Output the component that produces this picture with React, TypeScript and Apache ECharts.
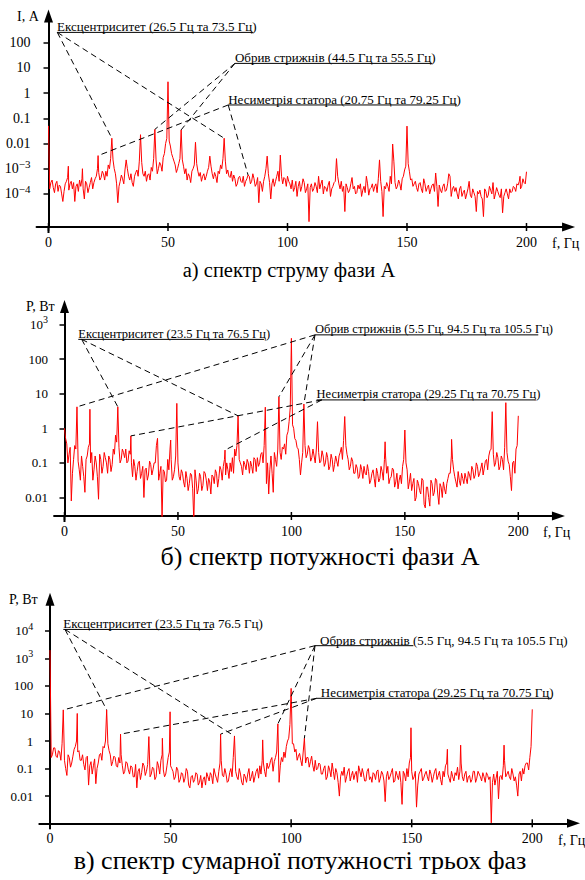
import React, { useEffect, useRef } from 'react';
import * as echarts from 'echarts';

const SERIF = 'Liberation Serif, DejaVu Serif, serif';

// Background spectra, 0..200 Hz. Values are log10 of the quantity.
// "...Noise" holds the points at whole Hz (index = Hz), "...Half" the points at index + 0.5 Hz.
// a) current of phase A, log10(I, A)
const currentNoiseLog10 = [
  -3.6, -3.55, -3.75, -3.6, -3.9, -3.7, -4.3, -3.6, -3.35, -3.6,
  -3.8, -4.3, -3.6, -3.45, -3.4, -4.2, -3.6, -3.75, -3.35, -3.55,
  -3.3, -3.15, -3.35, -3.2, -3.1, -2.85, -2.6, -2.65, -3.2, -4.35,
  -3.5, -3.4, -3.05, -3.0, -3.45, -3.55, -3.3, -3.05, -2.7, -2.75,
  -3.3, -3.5, -3.2, -2.95, -2.6, -2.65, -3.0, -2.85, -2.55, -2.0,
  -1.6, -2.1, -2.55, -2.85, -3.0, -2.6, -2.65, -3.2, -3.45, -3.3,
  -3.1, -2.85, -2.8, -3.3, -3.5, -3.2, -3.3, -2.95, -2.9, -3.4,
  -3.3, -3.1, -2.85, -2.6, -2.7, -3.05, -3.35, -3.5, -3.4, -3.6,
  -3.3, -3.55, -3.7, -3.4, -3.3, -3.5, -3.4, -3.6, -4.35, -3.6,
  -3.5, -3.0, -3.2, -4.2, -3.4, -3.5, -3.1, -3.0, -3.6, -3.4,
  -3.3, -3.6, -3.45, -3.75, -4.1, -3.5, -3.7, -3.55, -3.8, -5.1,
  -3.6, -3.8, -3.7, -3.3, -3.6, -4.0, -3.75, -3.65, -4.1, -3.7,
  -3.5, -3.3, -3.8, -3.9, -4.7, -3.75, -3.85, -3.35, -3.7, -3.95,
  -3.8, -4.1, -3.7, -3.3, -4.05, -3.75, -3.9, -3.6, -3.4, -3.5,
  -4.9, -3.8, -3.7, -3.3, -3.2, -3.55, -3.7, -3.6, -3.4, -3.05,
  -1.6, -3.1, -3.4, -3.6, -3.75, -3.6, -3.8, -3.4, -3.9, -3.65,
  -3.8, -3.6, -3.2, -4.5, -3.85, -3.7, -3.9, -3.6, -3.3, -3.8,
  -3.9, -4.0, -3.8, -4.1, -3.85, -4.0, -3.5, -4.15, -3.95, -4.7,
  -4.0, -4.1, -4.9, -3.9, -4.05, -3.85, -3.55, -4.0, -3.9, -4.15,
  -4.75, -3.95, -4.0, -3.8, -3.9, -3.75, -3.6, -3.5, -3.7, -3.55,
  -3.4,
];
const currentHalfLog10 = [
  -3.8, -3.45, -3.95, -3.5, -3.65, -4.0, -3.9, -3.5, -3.85, -3.5,
  -3.55, -3.7, -3.9, -3.7, -3.8, -3.5, -3.95, -3.55, -3.8, -3.4,
  -3.0, -3.45, -3.1, -3.45, -3.3, -3.0, -2.5, -3.0, -3.6, -3.7,
  -3.25, -3.6, -2.9, -3.3, -3.2, -3.7, -3.15, -3.3, -2.9, -3.2,
  -3.1, -3.25, -3.45, -3.1, -2.8, -3.2, -2.75, -3.1, -2.4, -1.8,
  -1.9, -2.4, -2.7, -3.15, -2.8, -2.2, -2.9, -3.0, -3.2, -3.55,
  -3.0, -2.5, -3.1, -3.15, -3.3, -3.45, -3.1, -2.8, -3.2, -3.15,
  -3.55, -3.2, -3.0, -2.5, -3.2, -3.3, -3.1, -3.25, -3.7, -3.35,
  -3.5, -3.3, -3.5, -3.6, -3.6, -3.2, -3.7, -3.35, -3.5, -3.9,
  -3.3, -2.9, -3.55, -3.6, -3.7, -3.3, -3.5, -3.3, -3.35, -3.7,
  -3.5, -3.8, -3.9, -3.5, -3.7, -3.9, -3.4, -3.95, -3.6, -3.75,
  -3.9, -3.55, -3.95, -3.8, -3.45, -3.7, -3.9, -3.5, -3.8, -3.55,
  -3.0, -3.6, -3.5, -3.7, -3.6, -3.95, -3.6, -3.8, -4.0, -3.65,
  -3.6, -3.85, -3.95, -3.6, -3.8, -3.6, -3.7, -3.95, -3.0, -3.9,
  -3.7, -3.55, -3.9, -3.6, -2.7, -3.8, -3.45, -3.85, -3.3, -2.9,
  -2.8, -3.45, -3.7, -3.5, -3.9, -3.55, -3.95, -3.6, -3.75, -4.0,
  -3.65, -3.9, -3.7, -3.65, -3.95, -3.6, -3.85, -3.3, -4.1, -3.7,
  -3.75, -4.2, -3.7, -3.95, -4.2, -3.8, -4.05, -3.8, -4.1, -3.9,
  -3.85, -4.2, -3.8, -4.15, -3.7, -4.0, -4.2, -3.75, -4.05, -3.8,
  -4.1, -3.8, -4.2, -3.95, -3.7, -3.9, -3.65, -3.8, -3.4, -3.6,
];
const currentPeaksLog10: [number, number][] = [
  [0, -1.3], [8.3, -2.9], [14.2, -3.0], [20.75, -2.48], [26.5, -1.79], [32.5, -2.65],
  [38.5, -1.65], [44.5, -1.44], [50, 0.45], [55.5, -1.46], [61.5, -1.95], [67.5, -2.5],
  [73.5, -1.79], [83.5, -3.25], [91.5, -2.5], [97, -2.46], [120.5, -2.6], [138.5, -2.65],
  [144, -2.02], [150, -1.31], [162, -3.17], [167.5, -3.2], [197.3, -3.3], [200, -3.12],
];

// b) power of phase A, log10(P, W)
const powerNoiseLog10 = [
  0.0, -0.45, -0.75, -2.1, -0.9, -0.6, -0.95, -1.5, -1.1, -1.85,
  -0.8, -0.45, -0.7, -1.2, -1.0, -2.05, -0.9, -1.1, -0.85, -1.3,
  -0.9, -1.05, -0.75, -0.4, -0.55, -0.9, -0.7, -0.6, -0.95, -0.75,
  -1.4, -1.1, -1.25, -0.95, -1.3, -2.0, -1.15, -1.35, -1.05, -1.2,
  -1.0, -0.7, -1.3, -2.6, -1.25, -1.5, -1.2, -0.9, -1.4, -0.8,
  -1.0, -1.5, -1.3, -1.7, -1.45, -1.6, -1.35, -2.7, -1.5, -1.75,
  -1.4, -1.65, -1.3, -1.8, -1.55, -1.35, -1.6, -1.3, -1.45, -1.2,
  -1.1, -1.35, -1.2, -1.0, -0.85, -0.6, -0.5, -0.9, -1.1, -0.95,
  -1.2, -1.0, -0.95, -1.3, -0.9, -0.85, -1.0, -0.7, -0.5, -1.6,
  -1.9, -0.8, -1.85, -0.9, -0.6, -0.7, -0.55, -0.45, -0.2, 0.2,
  0.3, 0.0, -0.35, -0.6, -1.35, -0.7, -0.5, -0.75, -0.6, -0.85,
  -0.8, -0.6, -0.7, -0.95, -0.8, -1.0, -0.85, -1.1, -0.9, -1.05,
  -0.95, -0.8, -0.55, -0.35, -0.5, -0.9, -1.1, -0.95, -1.3, -1.15,
  -1.4, -1.2, -1.1, -1.35, -1.25, -1.5, -1.2, -1.7, -1.3, -1.45,
  -1.25, -0.9, -1.3, -1.6, -1.4, -1.2, -1.55, -1.75, -1.35, -1.1,
  -0.6, -1.2, -1.55, -1.8, -1.45, -2.0, -1.6, -1.9, -1.5, -2.3,
  -1.7, -2.25, -1.6, -1.85, -1.5, -2.2, -1.7, -1.55, -1.9, -1.45,
  -1.3, -0.9, -1.4, -1.7, -1.5, -1.3, -1.6, -1.45, -1.25, -1.5,
  -1.2, -1.35, -1.1, -1.3, -1.0, -1.15, -0.9, -0.8, -0.6, -0.75,
  -1.0, -0.85, -1.1, -0.9, -0.55, -0.7, -1.05, -1.8, -0.95, -0.6,
  -0.3,
];
const powerHalfLog10 = [
  -0.3, -1.0, -0.55, -1.3, -0.5, -0.4, -1.2, -0.8, -1.4, -0.9,
  -0.55, -1.0, -1.5, -0.8, -1.4, -0.75, -1.3, -0.7, -1.0, -0.8,
  -1.25, -0.6, -0.2, -0.3, -1.0, -0.6, -0.85, -1.0, -0.65, -1.0,
  -0.9, -1.5, -1.0, -1.45, -1.1, -1.2, -1.5, -0.95, -1.35, -1.0,
  -0.5, -1.5, -1.1, -1.2, -1.55, -0.9, -0.6, -1.5, -1.2, -0.4,
  -1.4, -1.2, -1.55, -1.25, -1.8, -1.3, -1.75, -1.2, -1.9, -1.3,
  -1.8, -1.25, -1.5, -1.45, -1.9, -1.4, -1.2, -1.7, -1.1, -1.5,
  -0.9, -1.0, -1.45, -1.25, -1.3, -0.8, -0.3, -1.0, -1.35, -1.05,
  -0.9, -1.3, -1.1, -0.85, -1.25, -1.1, -0.75, -1.0, -0.3, -1.0,
  -1.2, -1.3, -0.7, -1.1, -0.3, -0.9, -0.6, -0.75, -0.1, 0.6,
  0.1, -0.3, -0.55, -0.9, -1.0, -0.2, -0.85, -0.5, -0.95, -0.6,
  -1.0, -0.4, -1.0, -0.65, -1.1, -0.7, -1.2, -0.75, -1.25, -0.8,
  -1.1, -0.7, -0.9, -0.1, -0.75, -1.2, -0.85, -1.3, -1.05, -1.45,
  -1.05, -1.45, -1.3, -1.05, -1.6, -1.3, -1.45, -1.15, -1.55, -1.1,
  -1.5, -0.8, -1.1, -1.45, -1.15, -1.7, -1.3, -1.5, -1.6, -0.9,
  -1.0, -1.75, -1.3, -1.6, -2.1, -1.5, -1.8, -1.45, -2.2, -1.7,
  -2.0, -1.5, -1.95, -1.45, -1.9, -1.6, -2.0, -1.75, -1.6, -1.3,
  -0.8, -1.2, -1.55, -1.25, -1.65, -1.45, -1.3, -1.6, -1.35, -1.1,
  -1.45, -1.0, -1.4, -1.15, -1.35, -0.95, -1.2, -0.65, -0.4, -1.1,
  -0.7, -1.2, -0.8, -1.2, -0.4, -0.95, -1.4, -1.0, -1.3, -0.5,
];
const powerPeaksLog10: [number, number][] = [
  [5.5, 0.62], [11.2, 0.55], [23.5, 0.62], [29.25, -0.22], [41, -0.29], [46.8, -0.34],
  [49.5, 0.72], [70.75, -0.63], [76.5, 0.36], [88.5, 0.61], [94.5, 0.91], [100, 2.6],
  [105.5, 0.7], [111.5, 0.19], [123.5, 0.34], [141.3, -0.39], [150, -0.05], [170.6, -0.32],
  [188.5, 0.48], [194.5, 0.74], [200, 0.36],
];

// c) total power of three phases, log10(P, W)
const totalNoiseLog10 = [
  -0.3, -0.5, -0.25, -0.6, -0.4, -0.1, -0.7, -1.25, -0.6, -0.8,
  -0.3, 0.0, -0.35, -0.7, -0.85, -0.6, -1.6, -0.75, -0.9, -1.55,
  -0.8, -0.45, -0.2, 0.0, -0.1, -0.5, -0.75, -0.6, -0.95, -0.8,
  -0.9, -1.1, -0.8, -1.2, -0.95, -1.3, -1.7, -1.0, -1.15, -0.9,
  -1.1, -0.6, -1.2, -1.0, -1.3, -0.9, -0.7, -1.05, -1.2, -0.6,
  -0.9, -1.1, -1.3, -1.05, -1.4, -1.2, -1.35, -1.1, -1.7, -1.25,
  -1.4, -1.2, -1.5, -1.7, -1.3, -1.15, -1.45, -1.25, -1.0, -1.35,
  -1.1, -0.7, -1.3, -1.2, -1.45, -1.0, -0.6, -1.1, -1.4, -1.2,
  -1.6, -1.3, -1.2, -1.45, -1.1, -1.3, -1.0, -0.9, -0.7, -1.1,
  -0.8, -0.9, -0.6, -0.75, -0.4, -1.5, -0.6, -0.4, -0.2, 0.1,
  0.2, -0.1, -0.3, -0.55, -0.7, -0.4, -0.8, -0.6, -0.75, -0.9,
  -0.7, -1.0, -0.85, -1.2, -0.9, -1.3, -1.05, -0.8, -1.4, -1.15,
  -2.0, -1.1, -0.95, -1.3, -1.0, -1.25, -1.4, -1.1, -0.9, -1.3,
  -1.2, -1.45, -1.0, -1.3, -1.15, -1.4, -1.05, -1.35, -1.2, -2.2,
  -1.1, -1.3, -1.0, -1.45, -1.25, -1.1, -2.3, -1.2, -1.0, -0.8,
  -1.1, -1.3, -2.4, -1.2, -1.0, -1.35, -1.1, -1.45, -1.2, -1.3,
  -1.0, -1.25, -1.4, -1.1, -0.9, -1.2, -1.5, -1.3, -1.15, -0.95,
  -1.1, -1.3, -1.2, -1.5, -1.25, -1.4, -1.1, -1.35, -1.2, -1.45,
  -1.3, -1.15, -1.4, -2.97, -1.2, -1.35, -2.1, -1.25, -0.9, -1.3,
  -1.1, -1.4, -1.2, -1.3, -2.0, -1.1, -1.0, -0.9, -0.8, -0.6,
  -0.4,
];
const totalHalfLog10 = [
  -0.6, -0.25, -0.55, -0.35, -0.7, -0.2, -1.0, -0.5, -0.95, -0.55,
  -0.2, -0.4, -0.7, -0.5, -1.05, -0.55, -0.9, -1.2, -0.65, -1.0,
  -0.5, -0.7, -0.25, -0.2, -0.35, -0.9, -0.55, -0.9, -0.6, -0.5,
  -1.2, -0.75, -1.05, -0.9, -1.3, -0.85, -1.1, -1.4, -0.8, -1.25,
  -0.85, -1.3, -0.95, -1.4, -0.75, -1.2, -0.5, -1.3, -0.9, -0.4,
  -1.0, -1.4, -0.95, -1.5, -1.15, -1.5, -1.0, -1.6, -1.3, -1.5,
  -1.15, -1.6, -1.25, -1.4, -1.6, -1.3, -1.15, -1.55, -1.2, -1.5,
  -0.8, -1.25, -1.0, -1.5, -1.15, -1.3, -0.7, -1.3, -1.0, -1.5,
  -1.2, -1.5, -1.0, -1.3, -1.5, -1.1, -1.35, -1.2, -0.8, -1.3,
  -1.0, -0.7, -1.1, -0.6, -0.3, -0.9, -0.75, -0.6, 0.0, 0.6,
  -0.1, -0.4, -0.7, -0.45, -0.9, -0.6, -0.6, -0.95, -0.55, -1.1,
  -1.05, -0.8, -1.2, -1.0, -1.4, -0.9, -1.3, -1.1, -1.0, -1.5,
  -1.3, -1.25, -1.5, -1.1, -1.45, -1.1, -1.2, -1.5, -1.1, -1.0,
  -1.45, -1.1, -1.4, -1.5, -1.2, -1.1, -1.5, -1.1, -1.45, -1.3,
  -1.4, -1.15, -1.5, -1.1, -1.4, -1.5, -1.1, -1.45, -1.3, -0.6,
  -1.4, -1.1, -1.6, -1.1, -1.45, -1.2, -1.3, -1.05, -1.5, -1.1,
  -1.4, -1.1, -1.6, -1.3, -0.8, -1.35, -1.1, -1.45, -1.25, -1.4,
  -0.8, -1.45, -1.1, -1.3, -1.5, -1.1, -1.5, -1.1, -1.3, -1.15,
  -1.5, -1.25, -1.3, -1.5, -1.6, -1.1, -1.3, -1.4, -0.7, -1.2,
  -1.3, -1.0, -1.45, -1.6, -1.2, -1.45, -1.2, -0.8, -1.05, -0.2,
];
const totalPeaksLog10: [number, number][] = [
  [0, 3.3], [5.5, 1.13], [11.3, 1.0], [23.5, 1.13], [29.25, 0.25], [41, 0.16], [46.6, 0.1],
  [49.8, 1.06], [70.75, 0.25], [76.5, 0.18], [88.2, 0.04], [94.5, 0.62], [100, 1.91],
  [105.5, 0.1], [149.7, 0.48], [164.8, -0.3], [170.3, -0.15], [188.3, -0.15], [200, 1.15],
];

const xTickValues = [0, 50, 100, 150, 200];
const currentYTicks = [-4, -3, -2, -1, 0, 1, 2];
const powerYTicks = [-2, -1, 0, 1, 2, 3];
const totalYTicks = [-2, -1, 0, 1, 2, 3, 4];

const titles = ['а) спектр струму фази А', 'б) спектр потужності фази А', 'в) спектр сумарної потужності трьох фаз'];
const yNames = ['I, А', 'P, Вт', 'P, Вт'];
const xName = 'f, Гц';

type Note = { text: string; anchor: [number, number]; textX: number; lineFrom: number; lineTo: number; targets: number[] };

const currentNotes: Note[] = [
  { text: 'Ексцентриситет (26.5 Гц та 73.5 Гц)', anchor: [3.68, 2.41], textX: 3.6, lineFrom: 3.6, lineTo: 85.6, targets: [26.5, 73.5] },
  { text: 'Обрив стрижнів (44.5 Гц та 55.5 Гц)', anchor: [78.0, 1.18], textX: 78.0, lineFrom: 78.0, lineTo: 160.5, targets: [44.5, 55.5] },
  { text: 'Несиметрія статора (20.75 Гц та 79.25 Гц)', anchor: [75.2, -0.47], textX: 75.2, lineFrom: 75.2, lineTo: 170.9, targets: [20.75, 83.5] },
];
const powerNotes: Note[] = [
  { text: 'Ексцентриситет (23.5 Гц та 76.5 Гц)', anchor: [7.58, 2.57], textX: 6.08, lineFrom: 6.08, lineTo: 87.9, targets: [23.5, 76.5] },
  { text: 'Обрив стрижнів (5.5 Гц, 94.5 Гц та 105.5 Гц)', anchor: [110.4, 2.7], textX: 110.4, lineFrom: 110.4, lineTo: 208.8, targets: [5.5, 94.5, 105.5] },
  { text: 'Несиметрія статора (29.25 Гц та 70.75 Гц)', anchor: [113.4, 0.82], textX: 111.1, lineFrom: 111.1, lineTo: 207.4, targets: [29.25, 70.75] },
];
const totalNotes: Note[] = [
  { text: 'Ексцентриситет (23.5 Гц та 76.5 Гц)', anchor: [6.22, 4.05], textX: 5.52, lineFrom: 5.52, lineTo: 67.5, targets: [23.5, 76.5] },
  { text: 'Обрив стрижнів (5.5 Гц, 94.5 Гц та 105.5 Гц)', anchor: [109.9, 3.46], textX: 112, lineFrom: 109.9, lineTo: 150.7, targets: [5.5, 94.5, 105.5] },
  { text: 'Несиметрія статора (29.25 Гц та 70.75 Гц)', anchor: [110.6, 1.55], textX: 112.3, lineFrom: 110.6, lineTo: 208.0, targets: [29.25, 70.75] },
];

const panels = [
  {
    grid: { left: 36.55, top: 16, width: 532, height: 211 },
    xMin: -5, xMax: 217.6, yMin: -5.313, yMax: 3.06,
    noise: currentNoiseLog10, half: currentHalfLog10, peaks: currentPeaksLog10, yTicks: currentYTicks, notes: currentNotes,
    yLabelSize: 14, noteSize: 13,
    title: { x: 289, y: 270, size: 20.5 }, yName: { x: 17, y: 16 }, xName: { x: 552, y: 243 },
  },
  {
    grid: { left: 54.06, top: 306.5, width: 504.4, height: 209.5 },
    xMin: -4.6, xMax: 217.7, yMin: -2.535, yMax: 3.52,
    noise: powerNoiseLog10, half: powerHalfLog10, peaks: powerPeaksLog10, yTicks: powerYTicks, notes: powerNotes,
    yLabelSize: 13, noteSize: 12.5,
    title: { x: 320, y: 556, size: 26 }, yName: { x: 26, y: 306 }, xName: { x: 543, y: 532 },
  },
  {
    grid: { left: 39.3, top: 599.2, width: 534.2, height: 224.1 },
    xMin: -4.44, xMax: 217.1, yMin: -2.987, yMax: 5.147,
    noise: totalNoiseLog10, half: totalHalfLog10, peaks: totalPeaksLog10, yTicks: totalYTicks, notes: totalNotes,
    yLabelSize: 13, noteSize: 13,
    title: { x: 300, y: 860, size: 26 }, yName: { x: 9, y: 599 }, xName: { x: 558, y: 840 },
  },
];

function buildSpectrum(noise: number[], half: number[], peaks: [number, number][]) {
  const whole = noise.map((v, i) => [i, v] as [number, number]);
  const mid = half.map((v, i) => [i + 0.5, v] as [number, number]);
  const pts = [...whole, ...mid].filter((p) => !peaks.some((q) => q[0] === p[0]));
  return [...pts, ...peaks].sort((a, b) => a[0] - b[0]);
}

function yLabel(v: number) {
  const e = Math.round(v);
  if (e === 0) return '1';
  if (e === 1) return '10';
  if (e === 2) return '100';
  if (e === -1) return '0.1';
  if (e === -2) return '0.01';
  return `{b|10}{s|${e < 0 ? '\u2212' : ''}${Math.abs(e)}}`;
}

export default function App() {
  const ref = useRef<HTMLDivElement>(null);
  useEffect(() => {
    const el = ref.current!;
    const chart = echarts.init(el, null, { renderer: 'svg' });
    const axisLineStyle = { color: '#000', width: 2 };
    const option: any = {
      animation: false,
      backgroundColor: '#fff',
      textStyle: { fontFamily: SERIF },
      grid: panels.map((p) => ({ ...p.grid, containLabel: false, outerBoundsMode: 'none' })),
      xAxis: panels.map((p, i) => ({
        type: 'value', gridIndex: i, min: p.xMin, max: p.xMax,
        axisLine: { onZero: false, lineStyle: axisLineStyle, symbol: ['none', 'triangle'], symbolSize: [9, 13] },
        axisTick: { show: false },
        axisLabel: { customValues: xTickValues, margin: 8, color: '#000', fontFamily: SERIF, fontSize: 14 },
        splitLine: { show: false },
      })),
      yAxis: panels.map((p, i) => ({
        type: 'value', gridIndex: i, min: p.yMin, max: p.yMax,
        axisLine: { onZero: true, lineStyle: axisLineStyle, symbol: ['none', 'triangle'], symbolSize: [9, 13] },
        axisTick: { show: true, customValues: p.yTicks, length: 5, lineStyle: { color: '#000', width: 1.5 } },
        axisLabel: {
          customValues: p.yTicks, margin: 6, color: '#000', fontFamily: SERIF, fontSize: p.yLabelSize,
          formatter: (v: number) => yLabel(v),
          rich: {
            b: { fontFamily: SERIF, fontSize: p.yLabelSize, color: '#000' },
            s: { fontFamily: SERIF, fontSize: p.yLabelSize - 3, color: '#000', padding: [0, 0, 9, 0] },
          },
        },
        splitLine: { show: false },
      })),
      series: panels.map((p, i) => ({
        type: 'line', xAxisIndex: i, yAxisIndex: i,
        data: buildSpectrum(p.noise, p.half, p.peaks),
        symbol: 'none', showSymbol: false, silent: true, clip: true,
        lineStyle: { color: '#ff0000', width: 1 },
        z: 2,
      })),
    };
    chart.setOption(option);

    const g: any[] = [];
    const font = (size: number) => `${size}px ${SERIF}`;
    const text = (t: string, x: number, y: number, size: number, align: string, valign: string) => ({
      type: 'text', x, y, z: 20,
      style: { text: t, font: font(size), fontFamily: SERIF, fontSize: size, fill: '#000', textAlign: align, align, textVerticalAlign: valign, verticalAlign: valign },
    });
    panels.forEach((p, i) => {
      const toPx = (x: number, y: number) => chart.convertToPixel({ gridIndex: i } as any, [x, y]) as number[];
      xTickValues.forEach((v) => {
        const [px, py] = toPx(v, p.yMin);
        g.push({ type: 'line', z: 20, shape: { x1: px, y1: py - 4, x2: px, y2: py + 4 }, style: { stroke: '#000', lineWidth: 1.5 } });
      });
      const [ox, oy] = toPx(0, p.yMin);
      g.push({ type: 'line', z: 20, shape: { x1: ox, y1: oy, x2: ox, y2: oy + 6 }, style: { stroke: '#000', lineWidth: 2 } });
      p.notes.forEach((n) => {
        const [ax, ay] = toPx(n.anchor[0], n.anchor[1]);
        const [l1] = toPx(n.lineFrom, n.anchor[1]);
        const [l2] = toPx(n.lineTo, n.anchor[1]);
        const [tx] = toPx(n.textX, n.anchor[1]);
        g.push({ type: 'line', z: 20, shape: { x1: l1, y1: ay, x2: l2, y2: ay }, style: { stroke: '#000', lineWidth: 1 } });
        g.push(text(n.text, tx, ay + 1, p.noteSize, 'left', 'bottom'));
        n.targets.forEach((t) => {
          const pk = p.peaks.find((q) => q[0] === t)!;
          const [bx, by] = toPx(pk[0], pk[1]);
          g.push({ type: 'line', z: 19, shape: { x1: ax, y1: ay, x2: bx, y2: by }, style: { stroke: '#000', lineWidth: 1, lineDash: [6, 4] } });
        });
      });
      g.push(text(titles[i], p.title.x, p.title.y, p.title.size, 'center', 'middle'));
      g.push(text(yNames[i], p.yName.x, p.yName.y, 14, 'left', 'middle'));
      g.push(text(xName, p.xName.x, p.xName.y, 14, 'left', 'middle'));
    });
    chart.setOption({ graphic: { elements: g } });
    return () => chart.dispose();
  }, []);
  return <div ref={ref} style={{ position: 'absolute', left: 0, top: 0, width: 585, height: 880 }} />;
}
